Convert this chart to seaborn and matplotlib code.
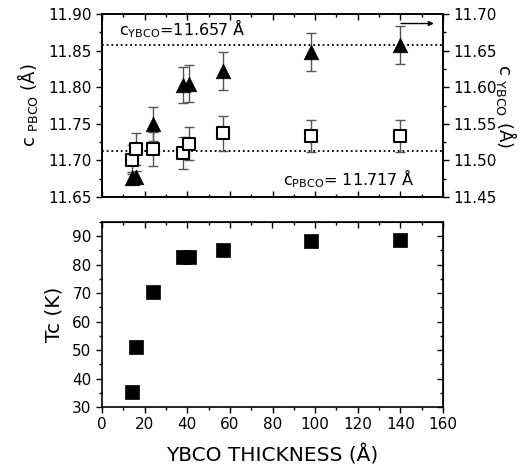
import numpy as np
import pandas as pd
import matplotlib
matplotlib.use("Agg")
import matplotlib.pyplot as plt
import seaborn as sns

# ---- data ----
thickness = [14, 16, 24, 38, 41, 57, 98, 140]
c_pbco = [11.701, 11.716, 11.716, 11.710, 11.723, 11.737, 11.733, 11.733]
c_pbco_err = [0.020, 0.022, 0.023, 0.022, 0.023, 0.024, 0.022, 0.022]
c_ybco = [11.476, 11.477, 11.550, 11.603, 11.605, 11.622, 11.648, 11.658]
c_ybco_err = [0.008, 0.008, 0.023, 0.025, 0.025, 0.026, 0.026, 0.026]
tc = [35.3, 51.2, 70.3, 82.6, 82.8, 85.1, 88.2, 88.6]
c_ybco_bulk = 11.657
c_pbco_line = 11.713

sns.set_style("ticks")
plt.rcParams["font.family"] = ["DejaVu Sans"]
plt.rcParams["mathtext.default"] = "regular"
for k in ("text.color", "axes.labelcolor", "xtick.color", "ytick.color",
          "axes.edgecolor"):
    plt.rcParams[k] = "black"

df = pd.DataFrame({"t": thickness, "cp": c_pbco, "cpe": c_pbco_err,
                   "cy": c_ybco, "cye": c_ybco_err, "tc": tc})

fig = plt.figure(figsize=(5.32, 4.70), dpi=100)
L, W = 102 / 532, 341 / 532
ax1 = fig.add_axes([L, 1 - 197 / 470, W, 183 / 470])
ax2 = fig.add_axes([L, 1 - 407 / 470, W, 185 / 470])
ax1r = ax1.twinx()

tick_fs = 11
ecol = "#555555"
dots = (0, (1.0, 1.6))

# top panel, left axis: PBCO (open squares)
ax1.errorbar(df["t"], df["cp"], yerr=df["cpe"], fmt="none", ecolor=ecol,
             elinewidth=1.0, capsize=3.5, capthick=1.0, zorder=2)
sns.scatterplot(data=df, x="t", y="cp", ax=ax1, marker="s", s=85,
                facecolor="white", edgecolor="black", linewidth=1.5, zorder=3)
ax1.axhline(c_pbco_line, color="black", ls=dots, lw=1.3, zorder=1)
ax1.set_xlim(0, 160)
ax1.set_ylim(11.65, 11.90)
ax1.set_yticks(np.arange(11.65, 11.901, 0.05))
ax1.set_yticks(np.arange(11.65, 11.901, 0.025), minor=True)
ax1.set_yticklabels([f"{v:.2f}" for v in np.arange(11.65, 11.901, 0.05)])
ax1.set_xticks(np.arange(0, 161, 20))
ax1.set_xticks(np.arange(0, 161, 10), minor=True)
ax1.tick_params(axis="x", which="both", direction="in", top=True, bottom=True,
                labelbottom=False)
ax1.tick_params(axis="y", which="both", direction="out", labelsize=tick_fs)
ax1.tick_params(which="major", length=4, width=1)
ax1.tick_params(which="minor", length=2.5, width=1)
ax1.set_xlabel("")
ax1.set_ylabel("c $_{PBCO}$ (Å)", fontsize=13, labelpad=6)

# top panel, right axis: YBCO (filled triangles)
ax1r.errorbar(df["t"], df["cy"], yerr=df["cye"], fmt="none", ecolor=ecol,
              elinewidth=1.0, capsize=3.5, capthick=1.0, zorder=2)
sns.scatterplot(data=df, x="t", y="cy", ax=ax1r, marker="^", s=110,
                color="black", edgecolor="black", linewidth=0.5, zorder=3)
ax1r.axhline(c_ybco_bulk, color="black", ls=dots, lw=1.3, zorder=1)
ax1r.set_ylim(11.45, 11.70)
ax1r.set_yticks(np.arange(11.45, 11.701, 0.05))
ax1r.set_yticks(np.arange(11.45, 11.701, 0.025), minor=True)
ax1r.set_yticklabels([f"{v:.2f}" for v in np.arange(11.45, 11.701, 0.05)])
ax1r.tick_params(axis="y", which="both", direction="out", labelsize=tick_fs)
ax1r.tick_params(which="major", length=4, width=1)
ax1r.tick_params(which="minor", length=2.5, width=1)
ax1r.set_xlabel("")
ax1r.set_ylabel("c $_{YBCO}$ (Å)", fontsize=13, rotation=-90, labelpad=16)

ax1.text(8, 11.880, "c$_{YBCO}$=11.657 Å", fontsize=11.5, va="center", ha="left")
ax1.text(85, 11.675, "c$_{PBCO}$= 11.717 Å", fontsize=11.5, va="center", ha="left")
ax1.annotate("", xy=(157, 11.887), xytext=(139, 11.887),
             arrowprops=dict(arrowstyle="-|>", color="black", lw=1.0,
                             mutation_scale=7))

# bottom panel: Tc (filled squares)
sns.scatterplot(data=df, x="t", y="tc", ax=ax2, marker="s", s=90,
                color="black", edgecolor="black", linewidth=0.5, zorder=3)
ax2.set_xlim(0, 160)
ax2.set_ylim(30, 95)
ax2.set_xticks(np.arange(0, 161, 20))
ax2.set_xticks(np.arange(0, 161, 10), minor=True)
ax2.set_yticks(np.arange(30, 91, 10))
ax2.set_yticks(np.arange(30, 96, 5), minor=True)
ax2.tick_params(which="both", direction="out", labelsize=tick_fs)
ax2.tick_params(which="major", length=4, width=1)
ax2.tick_params(which="minor", length=2.5, width=1)
ax2.set_xlabel("YBCO THICKNESS (Å)", fontsize=14.5, labelpad=9)
ax2.set_ylabel("Tc (K)", fontsize=14.5, labelpad=6)

# inward ticks on top / right of bottom panel
ax2t = ax2.secondary_xaxis("top")
ax2t.set_xticks(np.arange(0, 161, 20))
ax2t.set_xticks(np.arange(0, 161, 10), minor=True)
ax2t.tick_params(which="both", direction="in", labeltop=False)
ax2t.tick_params(which="major", length=4, width=1)
ax2t.tick_params(which="minor", length=2.5, width=1)
ax2r = ax2.secondary_yaxis("right")
ax2r.set_yticks(np.arange(30, 91, 10))
ax2r.set_yticks(np.arange(30, 96, 5), minor=True)
ax2r.tick_params(which="both", direction="in", labelright=False)
ax2r.tick_params(which="major", length=4, width=1)
ax2r.tick_params(which="minor", length=2.5, width=1)

for a in (ax1, ax1r, ax2):
    for sp in a.spines.values():
        sp.set_visible(True)
        sp.set_linewidth(1.2)
        sp.set_color("black")

fig.savefig("out.png", dpi=100, facecolor="white")
